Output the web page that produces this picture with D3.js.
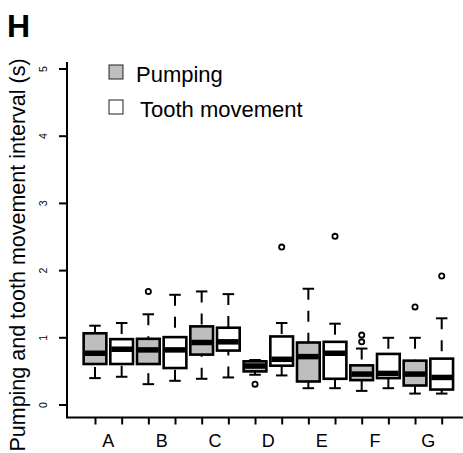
<!DOCTYPE html>
<html>
<head>
<meta charset="utf-8">
<script src="https://cdn.jsdelivr.net/npm/d3@7"></script>
<style>
  body { margin: 0; background: #fff; }
  svg text { font-family: "Liberation Sans", Arial, Helvetica, sans-serif; }
</style>
</head>
<body>
<svg id="chart" width="463" height="453"></svg>
<script>
// groups, two boxes each (pumping, tooth movement)
var categories = ['A', 'B', 'C', 'D', 'E', 'F', 'G'];
var series = ['Pumping', 'Tooth movement'];
var yTicks = [0, 1, 2, 3, 4, 5];

// box stats, in order A-pump, A-tooth, B-pump, B-tooth ...
var lowerWhisker = [0.40, 0.42, 0.31, 0.36, 0.39, 0.41, 0.45, 0.44, 0.25, 0.25, 0.21, 0.25, 0.17, 0.17];
var q1           = [0.61, 0.61, 0.61, 0.55, 0.75, 0.81, 0.50, 0.585, 0.35, 0.39, 0.37, 0.40, 0.29, 0.23];
var median       = [0.77, 0.83, 0.82, 0.82, 0.93, 0.94, 0.58, 0.68, 0.72, 0.77, 0.46, 0.47, 0.46, 0.41];
var q3           = [1.067, 0.98, 0.985, 1.01, 1.17, 1.15, 0.65, 1.02, 0.93, 0.94, 0.59, 0.76, 0.66, 0.69];
var upperWhisker = [1.18, 1.22, 1.35, 1.64, 1.69, 1.65, 0.67, 1.22, 1.73, 1.21, 0.84, 1.00, 1.00, 1.29];
var outliers     = [[], [], [1.69], [], [], [], [0.31], [2.35], [], [2.51], [1.04, 0.94], [], [1.46], [1.92]];

var fills = {'Pumping': '#bebebe', 'Tooth movement': '#ffffff'};

var boxes = [];
for(var i = 0; i < lowerWhisker.length; i++)
{
    boxes.push({
        idx: i + 1,
        series: series[i % 2],
        lw: lowerWhisker[i], q1: q1[i], med: median[i], q3: q3[i], uw: upperWhisker[i],
        out: outliers[i]
    });
}

var svg = d3.select('#chart');
var x = d3.scaleLinear().domain([1, 14]).range([95, 441.7]);
var y = d3.scaleLinear().domain([0, 5]).range([405, 69]);
var boxW = 22.7, capW = 11.5;

// L-shaped frame
svg.append('path')
    .attr('d', 'M67,62 L67,417.5 L463,417.5')
    .attr('fill', 'none').attr('stroke', '#000').attr('stroke-width', 2);

// y axis ticks
var yAxis = svg.append('g').attr('transform', 'translate(67,0)')
    .call(d3.axisLeft(y).tickValues(yTicks).tickSize(8).tickFormat(d3.format('d')));
yAxis.select('.domain').remove();
yAxis.selectAll('line').attr('stroke-width', 2);
yAxis.selectAll('text')
    .attr('x', null).attr('dy', null)
    .attr('text-anchor', 'middle')
    .attr('transform', function(d){ return 'translate(-20,' + y(d) + ') rotate(-90)'; })
    .attr('y', 0)
    .style('font-size', '10.5px');
yAxis.selectAll('.tick').attr('transform', 'translate(0,0)');
yAxis.selectAll('.tick line').attr('y1', function(d){ return y(d); }).attr('y2', function(d){ return y(d); });

// x axis ticks at each box
var xAxis = svg.append('g').attr('transform', 'translate(0,417.5)')
    .call(d3.axisBottom(x).tickValues(d3.range(1, 15)).tickSize(7).tickFormat(''));
xAxis.select('.domain').remove();
xAxis.selectAll('line').attr('stroke-width', 2);

// category labels centred under pairs
svg.selectAll('.cat')
    .data(categories)
    .enter()
    .append('text')
    .attr('class', 'cat')
    .attr('x', function(d, i){ return (x(2 * i + 1) + x(2 * i + 2)) / 2; })
    .attr('y', 446.5)
    .attr('text-anchor', 'middle')
    .style('font-size', '18px')
    .text(function(d){ return d; });

// y title
svg.append('text')
    .attr('transform', 'translate(25,255) rotate(-90)')
    .attr('text-anchor', 'middle')
    .style('font-size', '21.5px')
    .text('Pumping and tooth movement interval (s)');

// panel letter
svg.append('text')
    .attr('x', 7).attr('y', 37.3)
    .style('font-size', '32px').style('font-weight', 'bold')
    .text('H');

// boxes
var g = svg.selectAll('.box')
    .data(boxes)
    .enter()
    .append('g').attr('class', 'box');

g.append('line') // upper whisker
    .attr('x1', function(d){ return x(d.idx); }).attr('x2', function(d){ return x(d.idx); })
    .attr('y1', function(d){ return y(d.uw); }).attr('y2', function(d){ return y(d.q3); })
    .attr('stroke', '#000').attr('stroke-width', 2).attr('stroke-dasharray', '11,11');
g.append('line') // lower whisker
    .attr('x1', function(d){ return x(d.idx); }).attr('x2', function(d){ return x(d.idx); })
    .attr('y1', function(d){ return y(d.lw); }).attr('y2', function(d){ return y(d.q1); })
    .attr('stroke', '#000').attr('stroke-width', 2).attr('stroke-dasharray', '11,11');
g.selectAll('.cap')
    .data(function(d){ return [{idx: d.idx, v: d.uw}, {idx: d.idx, v: d.lw}]; })
    .enter()
    .append('line').attr('class', 'cap')
    .attr('x1', function(d){ return x(d.idx) - capW / 2; })
    .attr('x2', function(d){ return x(d.idx) + capW / 2; })
    .attr('y1', function(d){ return y(d.v); }).attr('y2', function(d){ return y(d.v); })
    .attr('stroke', '#000').attr('stroke-width', 2);
g.append('rect')
    .attr('x', function(d){ return x(d.idx) - boxW / 2; })
    .attr('y', function(d){ return y(d.q3); })
    .attr('width', boxW)
    .attr('height', function(d){ return y(d.q1) - y(d.q3); })
    .attr('fill', function(d){ return fills[d.series]; })
    .attr('stroke', '#000').attr('stroke-width', 2.6);
g.append('line') // median
    .attr('x1', function(d){ return x(d.idx) - boxW / 2 + 1; })
    .attr('x2', function(d){ return x(d.idx) + boxW / 2 - 1; })
    .attr('y1', function(d){ return y(d.med); }).attr('y2', function(d){ return y(d.med); })
    .attr('stroke', '#000').attr('stroke-width', 5.5);
g.selectAll('.out')
    .data(function(d){ return d.out.map(function(v){ return {idx: d.idx, v: v}; }); })
    .enter()
    .append('circle').attr('class', 'out')
    .attr('cx', function(d){ return x(d.idx); })
    .attr('cy', function(d){ return y(d.v); })
    .attr('r', 2.6)
    .attr('fill', 'none').attr('stroke', '#000').attr('stroke-width', 1.8);

// legend
var leg = svg.selectAll('.leg')
    .data(series)
    .enter()
    .append('g').attr('class', 'leg')
    .attr('transform', function(d, i){ return 'translate(109,' + (65 + i * 35) + ')'; });
leg.append('rect')
    .attr('width', 14).attr('height', 14)
    .attr('fill', function(d){ return fills[d]; })
    .attr('stroke', '#333').attr('stroke-width', 1.1);
leg.append('text')
    .attr('x', function(d, i){ return i === 0 ? 27 : 31; })
    .attr('y', 16.5)
    .style('font-size', '22px')
    .text(function(d){ return d; });
</script>
</body>
</html>
